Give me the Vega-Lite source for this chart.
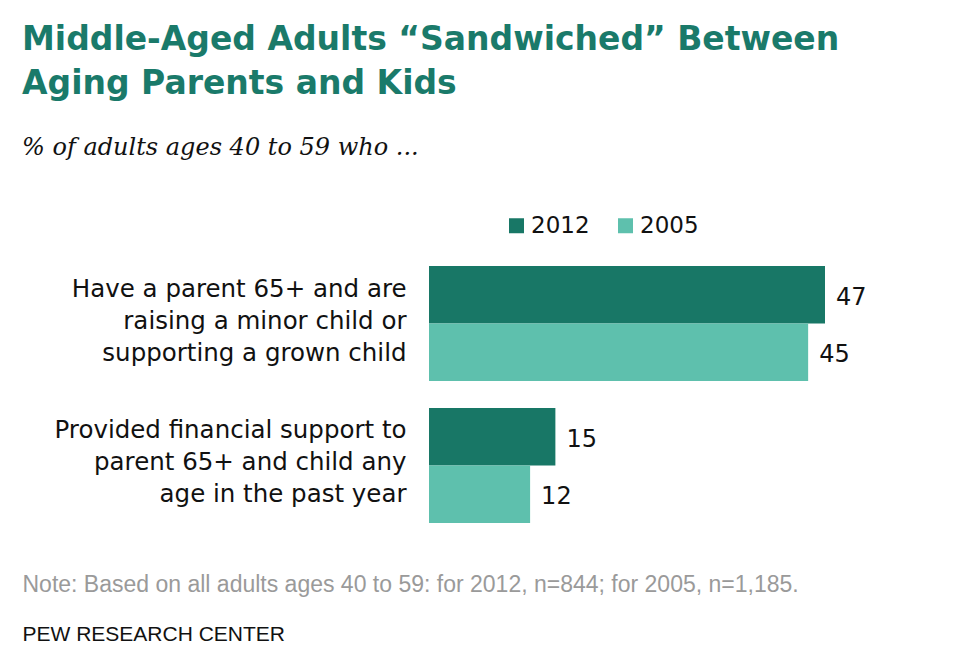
{
  "$schema": "https://vega.github.io/schema/vega-lite/v6.json",
  "width": 396,
  "height": 257,
  "autosize": "none",
  "padding": {"left": 429, "top": 266, "right": 137, "bottom": 141},
  "background": "white",
  "config": {"view": {"stroke": null}},
  "title": {
    "text": ["Middle-Aged Adults “Sandwiched” Between", "Aging Parents and Kids"],
    "subtitle": "% of adults ages 40 to 59 who ...",
    "anchor": "start",
    "frame": "group",
    "dx": -407,
    "offset": 54,
    "font": "DejaVu Sans",
    "fontSize": 33,
    "fontWeight": "bold",
    "lineHeight": 44,
    "color": "#1a7a6a",
    "subtitleFont": "DejaVu Serif",
    "subtitleFontStyle": "italic",
    "subtitleFontSize": 24,
    "subtitleColor": "#111111",
    "subtitlePadding": 35
  },
  "data": {
    "values": [
      {"item": "Have a parent 65+ and are|raising a minor child or|supporting a grown child", "year": "2012", "pct": 47},
      {"item": "Have a parent 65+ and are|raising a minor child or|supporting a grown child", "year": "2005", "pct": 45},
      {"item": "Provided financial support to|parent 65+ and child any|age in the past year", "year": "2012", "pct": 15},
      {"item": "Provided financial support to|parent 65+ and child any|age in the past year", "year": "2005", "pct": 12}
    ]
  },
  "encoding": {
    "y": {
      "field": "item",
      "type": "nominal",
      "sort": null,
      "scale": {"paddingInner": 0.19, "paddingOuter": 0},
      "axis": {
        "title": null,
        "labelExpr": "split(datum.label, '|')",
        "labelFont": "DejaVu Sans",
        "labelFontSize": 24.5,
        "labelLineHeight": 32,
        "labelColor": "#111111",
        "labelAlign": "right",
        "labelBaseline": "middle",
        "labelOffset": -34,
        "labelPadding": 23,
        "labelLimit": 0,
        "ticks": false,
        "domain": false
      }
    },
    "yOffset": {
      "field": "year",
      "type": "nominal",
      "sort": ["2012", "2005"],
      "scale": {"paddingInner": 0, "paddingOuter": 0}
    },
    "x": {
      "field": "pct",
      "type": "quantitative",
      "scale": {"domain": [0, 47], "nice": false, "zero": true}
    }
  },
  "layer": [
    {
      "mark": {"type": "bar"},
      "encoding": {
        "x": {
          "field": "pct",
          "type": "quantitative",
          "axis": {
            "orient": "bottom",
            "labels": false,
            "ticks": false,
            "domain": false,
            "grid": false,
            "title": "Note: Based on all adults ages 40 to 59:  for 2012, n=844; for 2005, n=1,185.",
            "titleX": -407,
            "titleY": 68,
            "titleAlign": "left",
            "titleAnchor": null,
            "titleBaseline": "alphabetic",
            "titleColor": "#9a9a9a",
            "titleFont": "Liberation Sans",
            "titleFontSize": 23,
            "titleFontWeight": "normal"
          }
        },
        "color": {
          "field": "year",
          "type": "nominal",
          "sort": ["2012", "2005"],
          "scale": {"domain": ["2012", "2005"], "range": ["#187766", "#5ec0ad"]},
          "legend": {
            "title": null,
            "orient": "none",
            "direction": "horizontal",
            "legendX": 76,
            "legendY": -52,
            "symbolType": "square",
            "symbolSize": 225,
            "symbolStrokeWidth": 0,
            "labelFont": "DejaVu Sans",
            "labelFontSize": 23,
            "labelColor": "#111111",
            "labelOffset": 3,
            "columnPadding": 24
          }
        }
      }
    },
    {
      "mark": {"type": "text", "align": "left", "baseline": "middle", "dx": 11, "dy": 3, "font": "DejaVu Sans", "fontSize": 24, "color": "#111111"},
      "encoding": {
        "x": {
          "field": "pct",
          "type": "quantitative",
          "axis": {
            "orient": "bottom",
            "labels": false,
            "ticks": false,
            "domain": false,
            "grid": false,
            "title": "PEW RESEARCH  CENTER",
            "titleX": -407,
            "titleY": 117,
            "titleAlign": "left",
            "titleAnchor": null,
            "titleBaseline": "alphabetic",
            "titleColor": "#111111",
            "titleFont": "Liberation Sans",
            "titleFontSize": 21,
            "titleFontWeight": "normal"
          }
        },
        "text": {"field": "pct", "type": "quantitative"}
      }
    }
  ],
  "resolve": {"axis": {"x": "independent"}}
}
